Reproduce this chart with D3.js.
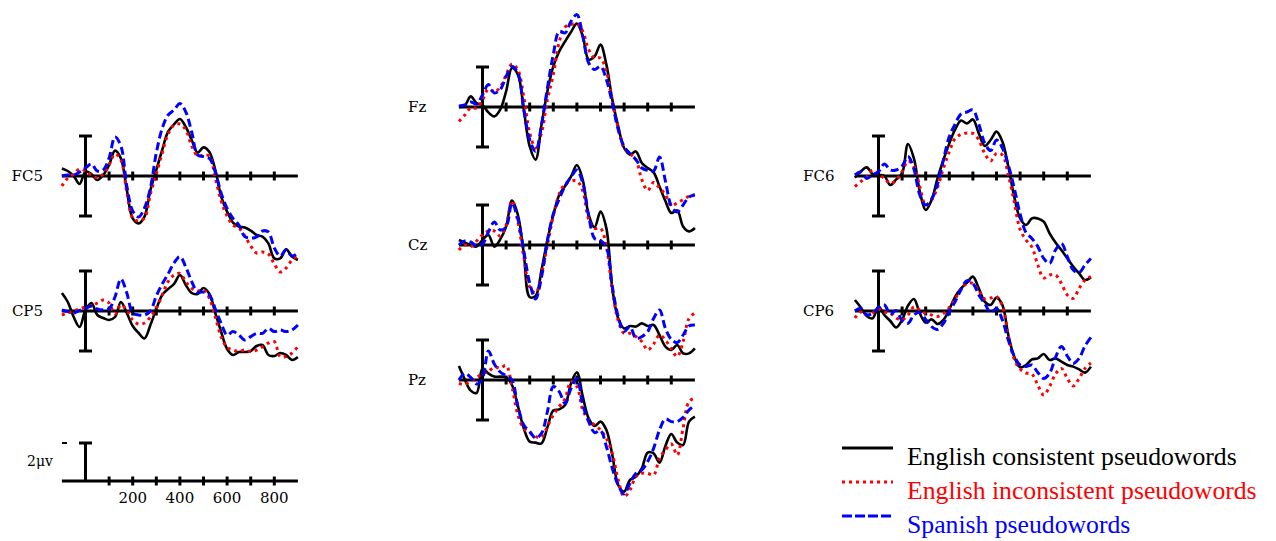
<!DOCTYPE html>
<html>
<head>
<meta charset="utf-8">
<script src="https://cdn.jsdelivr.net/npm/d3@7"></script>
<style>
  body { margin: 0; background: #fff; }
  svg { display: block; }
</style>
</head>
<body>
<svg id="chart" width="1276" height="541"></svg>
<script>
// sample times (ms) shared by every trace
const times = [-100, -75, -50, -25, 0, 25, 50, 75, 100, 125, 150, 175, 200, 225, 250, 275, 300,
  325, 350, 375, 400, 425, 450, 475, 500, 525, 550, 575, 600, 625, 650, 675, 700, 725, 750,
  775, 800, 825, 850, 875, 900];

// amplitudes in microvolts, one array per electrode and condition
const fc5Consistent = [0.38, 0.25, 0, -0.4, 0.22, 0.1, -0.2, 0.05, 0.55, 1.27, 0.88, -0.7, -2.12, -2.37, -2.03, -0.7, 0.3, 1.3, 2.22, 2.58, 2.85, 2.45, 1.8, 1.17, 1.43, 1.2, 0.3, -1.03, -1.78, -2.33, -2.53, -2.57, -2.73, -2.95, -3.03, -3.37, -4.12, -4.12, -3.67, -4.03, -4.2];
const fc5Inconsistent = [-0.5, -0.1, 0.1, 0.35, 0.25, 0.05, -0.1, 0.1, 0.55, 1.1, 0.8, -0.8, -2.1, -2.25, -2.1, -0.9, 0.1, 1.15, 2.1, 2.55, 2.6, 2.3, 1.5, 1.0, 1.05, 1.0, -0.1, -1.25, -2.0, -2.45, -2.6, -3.0, -3.5, -3.85, -3.8, -3.9, -4.4, -4.8, -4.6, -4.2, -4.0];
const fc5Spanish = [0, 0.05, 0.05, 0.2, 0.4, 0.6, 0.25, 0.3, 0.9, 1.95, 1.5, -0.5, -1.75, -2.05, -1.6, -0.6, 1.15, 2.38, 3.05, 3.3, 3.63, 3.2, 2.2, 1.05, 0.97, 0.88, 0.2, -0.87, -1.62, -2.12, -2.45, -3.03, -3.1, -3.05, -2.75, -2.8, -3.6, -4.0, -3.7, -4.0, -3.85];

const cp5Consistent = [0.9, 0.45, -0.3, -0.8, 0.05, 0.4, -0.2, -0.35, -0.45, -0.3, 0.45, -0.1, -0.75, -1.1, -1.37, -0.7, 0.1, 0.8, 1.1, 1.35, 1.8, 1.3, 0.9, 0.85, 1.15, 0.85, -0.1, -1.05, -1.9, -2.2, -2.05, -2.05, -2.0, -1.75, -1.7, -2.2, -2.25, -2.1, -2.2, -2.45, -2.3];
const cp5Inconsistent = [-0.2, -0.1, 0, 0.1, 0.2, 0.25, 0.4, 0.55, 0.4, -0.15, 0.3, 0.05, -0.45, -0.65, -0.6, -0.3, 0.13, 0.8, 1.47, 1.8, 1.88, 1.47, 1.13, 1.0, 1.05, 0.63, -0.3, -1.3, -1.82, -1.95, -2.03, -1.95, -2.03, -1.95, -1.78, -1.6, -1.53, -2.28, -2.28, -2.1, -1.78];
const cp5Spanish = [0.05, -0.03, -0.1, 0.03, 0.13, 0.25, 0.1, 0.05, 0.1, 0.7, 1.6, 0.9, -0.1, -0.2, -0.2, 0.0, 0.75, 1.35, 1.85, 2.4, 2.72, 2.2, 1.47, 0.95, 0.95, 0.8, 0.1, -0.62, -1.2, -1.03, -1.2, -1.45, -1.28, -1.12, -1.12, -0.87, -1.03, -0.95, -1.03, -0.95, -0.7];

const fzConsistent = [0, 0.07, 0.53, 0.2, 0.1, -0.27, -0.47, -0.13, 0.78, 1.95, 1.62, -0.13, -1.97, -2.63, -0.88, 0.78, 2.03, 2.78, 3.28, 3.75, 4.17, 3.53, 2.37, 2.53, 3.12, 2.12, 0.37, -0.97, -2.05, -2.38, -2.22, -2.8, -3.05, -3.27, -3.97, -4.7, -5.3, -5.17, -5.97, -6.22, -6.05];
const fzInconsistent = [-0.72, -0.4, -0.05, -0.05, 0.35, 0.9, 0.75, 1.0, 1.6, 2.15, 1.85, 0.5, -1.3, -2.05, -1.3, 0.37, 1.62, 3.25, 4.0, 4.12, 4.17, 3.78, 2.87, 2.45, 2.45, 1.78, 0.28, -1.05, -2.05, -2.33, -2.63, -3.63, -4.17, -3.77, -4.05, -4.38, -4.93, -4.8, -4.63, -4.47, -4.38];
const fzSpanish = [0.05, 0.1, 0.25, 0.15, 0.6, 1.12, 0.7, 0.87, 1.53, 2.03, 1.7, -0.13, -1.63, -2.22, -0.9, 0.95, 2.62, 3.78, 3.7, 4.28, 4.62, 3.53, 2.2, 1.87, 2.03, 1.37, 0.2, -1.13, -1.97, -2.33, -2.63, -3.05, -3.17, -3.2, -2.5, -3.7, -4.95, -5.25, -4.9, -4.5, -4.4];

const czConsistent = [0.25, 0.12, 0, -0.08, 0.25, 0.5, -0.08, 0.28, 0.92, 2.22, 1.5, -0.42, -2.6, -2.55, -1.25, 0.25, 1.5, 2.5, 2.95, 3.42, 4.0, 3.25, 1.5, 0.88, 1.67, 0.83, -2.17, -3.67, -4.17, -4.05, -4.08, -3.92, -4.05, -4.0, -4.5, -5.08, -5.25, -5.0, -5.42, -5.42, -5.17];
const czInconsistent = [-0.25, 0, -0.08, 0.2, 0.5, 0.7, 0.7, 0.45, 1.0, 2.2, 1.15, -0.6, -2.1, -2.4, -1.45, 0.0, 1.45, 2.55, 3.05, 3.2, 3.2, 2.7, 1.28, 0.83, 0.83, -0.08, -2.25, -3.78, -4.42, -4.42, -4.58, -4.83, -5.25, -4.95, -4.5, -4.75, -5.2, -5.58, -4.83, -3.67, -3.4];
const czSpanish = [0.0, 0.2, 0.15, -0.05, 0.05, 0.65, 1.15, 0.75, 0.9, 2.1, 1.3, -0.3, -1.9, -2.7, -1.6, 0.2, 1.55, 2.3, 2.95, 3.4, 3.75, 3.1, 1.45, 0.33, 0.22, -0.12, -2.08, -3.58, -4.33, -4.08, -4.67, -4.58, -4.33, -3.67, -3.25, -4.17, -4.72, -4.88, -4.5, -4.05, -4.0];

const pzConsistent = [0.7, 0.03, -0.53, -0.65, 0.58, 0.33, 0.17, 0.17, 0.13, -0.25, -1.3, -2.42, -3.08, -3.13, -3.17, -2.37, -1.53, -1.47, -1.25, -0.17, 0.38, -0.83, -1.92, -2.3, -2.08, -2.5, -3.75, -5.25, -5.58, -5.0, -4.83, -4.42, -3.63, -3.67, -4.13, -3.3, -2.7, -3.13, -3.25, -2.08, -1.83];
const pzInconsistent = [-0.17, -0.22, -0.05, 0.12, 0.33, 0.42, 0.65, 0.6, 0.72, -0.33, -1.75, -2.42, -2.63, -2.83, -2.87, -2.33, -1.75, -1.33, -0.93, -0.08, -0.33, -1.5, -2.0, -2.25, -2.5, -2.92, -3.67, -5.0, -5.83, -5.5, -4.83, -4.67, -4.67, -4.75, -3.9, -3.5, -3.2, -3.75, -2.4, -1.08, -0.9];
const pzSpanish = [0.0, 0.33, 0.13, -0.2, 0.1, 1.45, 0.8, 0.4, 0.22, 0.0, -1.33, -2.25, -2.58, -2.9, -2.67, -1.58, -0.33, -0.58, -1.17, -0.42, 0.08, -1.25, -2.08, -2.63, -2.53, -3.33, -4.42, -5.25, -5.7, -5.17, -4.67, -4.5, -4.08, -3.42, -2.5, -1.95, -2.08, -2.08, -1.87, -1.5, -1.25];

const fc6Consistent = [-0.08, 0.22, 0.43, 0.1, 0.05, 0, -0.45, -0.17, 0.13, 1.6, 0.88, -0.78, -1.7, -1.2, -0.12, 0.8, 1.63, 2.33, 2.77, 2.63, 2.83, 2.13, 1.5, 1.8, 2.22, 1.72, 0.47, -1.03, -2.12, -2.45, -2.12, -2.12, -2.28, -2.87, -3.33, -3.7, -4.12, -4.53, -4.87, -5.2, -5.07];
const fc6Inconsistent = [-0.53, -0.28, -0.05, 0.3, 0.1, -0.12, -0.37, -0.2, 0.22, 0.75, 0.48, -0.53, -1.45, -1.2, -0.57, 0.38, 1.22, 1.88, 2.08, 2.15, 2.13, 1.8, 1.13, 0.75, 1.13, 1.05, 0.05, -1.28, -2.67, -3.2, -3.55, -4.45, -5.1, -4.95, -4.95, -5.37, -5.95, -6.12, -5.62, -5.2, -5.03];
const fc6Spanish = [0.05, 0.2, -0.12, 0.05, 0.22, 0.6, 0.3, 0.3, 0.5, 0.97, 0.35, -0.95, -1.45, -1.15, -0.4, 0.8, 1.97, 2.6, 3.1, 3.2, 3.3, 2.6, 1.65, 1.27, 1.8, 1.4, 0.55, -0.6, -1.9, -2.83, -3.12, -3.53, -4.12, -4.37, -3.7, -3.37, -4.03, -4.7, -4.83, -4.45, -4.12];

const cp6Consistent = [0.55, 0.18, -0.25, -0.37, 0.22, -0.2, -0.5, -0.82, -0.45, 0.27, 0.6, -0.12, -0.58, -0.42, -0.65, -0.45, 0.08, 0.72, 1.13, 1.42, 1.72, 1.13, 0.47, 0.3, 0.67, 0.3, -1.2, -2.28, -2.82, -2.7, -2.42, -2.37, -2.15, -2.45, -2.37, -2.53, -2.7, -2.78, -2.92, -3.08, -2.78];
const cp6Inconsistent = [-0.35, -0.05, -0.2, -0.1, 0.1, -0.05, -0.1, -0.35, -0.45, -0.2, 0.2, 0.05, -0.12, -0.2, -0.27, -0.12, 0.15, 0.6, 1.1, 1.38, 1.38, 1.0, 0.6, 0.65, 0.72, 0.25, -1.25, -2.4, -2.9, -3.1, -3.15, -3.7, -4.2, -3.78, -3.15, -2.87, -3.37, -3.75, -3.37, -2.87, -2.6];
const cp6Spanish = [0, 0.13, -0.2, -0.12, 0.18, 0.3, -0.15, 0.02, -0.48, -0.62, -0.2, -0.07, -0.42, -0.78, -0.92, -0.62, -0.03, 0.47, 1.08, 1.52, 1.38, 0.8, 0.38, -0.08, 0.13, -0.45, -1.45, -2.25, -2.7, -2.78, -2.7, -3.08, -3.37, -3.12, -2.32, -1.78, -2.25, -2.62, -2.37, -1.75, -1.32];

const tickTimes = [100, 200, 300, 400, 500, 600, 700, 800];
const tickLabels = [200, 400, 600, 800];
const scaleLabel = "2μv";
const legendNames = ["English consistent pseudowords", "English inconsistent pseudowords", "Spanish pseudowords"];

// where each electrode sits on the page (zero time / zero volt)
const panels = [
  { name: "FC5", x0: 85.5, y0: 176, lx: 43, anchor: "end", series: [fc5Consistent, fc5Inconsistent, fc5Spanish] },
  { name: "CP5", x0: 85.5, y0: 311, lx: 43, anchor: "end", series: [cp5Consistent, cp5Inconsistent, cp5Spanish] },
  { name: "Fz", x0: 482.5, y0: 107, lx: 408, anchor: "start", series: [fzConsistent, fzInconsistent, fzSpanish] },
  { name: "Cz", x0: 482.5, y0: 245, lx: 408, anchor: "start", series: [czConsistent, czInconsistent, czSpanish] },
  { name: "Pz", x0: 482.5, y0: 380, lx: 408, anchor: "start", series: [pzConsistent, pzInconsistent, pzSpanish] },
  { name: "FC6", x0: 878.5, y0: 176, lx: 803, anchor: "start", series: [fc6Consistent, fc6Inconsistent, fc6Spanish] },
  { name: "CP6", x0: 878.5, y0: 311, lx: 803, anchor: "start", series: [cp6Consistent, cp6Inconsistent, cp6Spanish] }
];

const styles = [
  { color: "#000000", width: 2.6, dash: null },
  { color: "#ff0000", width: 3, dash: "3,4" },
  { color: "#0000ff", width: 3, dash: "8,4" }
];

const svg = d3.select("#chart");
svg.append("rect").attr("width", 1276).attr("height", 541).attr("fill", "#fff");

const labelFont = "'DejaVu Serif', serif";

function makeScales(p) {
  const x = d3.scaleLinear().domain([-100, 900]).range([p.x0 - 23.6, p.x0 + 212.4]);
  const y = d3.scaleLinear().domain([-2, 2]).range([p.y0 + 40, p.y0 - 40]);
  return { x, y };
}

function drawFrame(g, x, y, barFrom, barTo) {
  // time axis
  g.append("line")
    .attr("x1", x(-100)).attr("x2", x(900))
    .attr("y1", y(0)).attr("y2", y(0))
    .attr("stroke", "#000").attr("stroke-width", 3);
  g.selectAll("line.tick")
    .data(tickTimes)
    .enter()
    .append("line")
    .attr("class", "tick")
    .attr("x1", d => x(d)).attr("x2", d => x(d))
    .attr("y1", y(0) - 4.5).attr("y2", y(0) + 4.5)
    .attr("stroke", "#000").attr("stroke-width", 3);
  // amplitude bar with caps
  g.append("line")
    .attr("x1", x(0)).attr("x2", x(0))
    .attr("y1", y(barFrom)).attr("y2", y(barTo))
    .attr("stroke", "#000").attr("stroke-width", 3);
  [barFrom, barTo].filter(v => v !== 0).forEach(v => {
    g.append("line")
      .attr("x1", x(0) - 6.5).attr("x2", x(0) + 6.5)
      .attr("y1", y(v)).attr("y2", y(v))
      .attr("stroke", "#000").attr("stroke-width", 3);
  });
}

panels.forEach(p => {
  const { x, y } = makeScales(p);
  const g = svg.append("g");
  drawFrame(g, x, y, -2, 2);

  const line = d3.line()
    .x((d, i) => x(times[i]))
    .y(d => y(d))
    .curve(d3.curveCatmullRom.alpha(0.5));

  p.series.forEach((values, k) => {
    const s = styles[k];
    g.append("path")
      .datum(values)
      .attr("d", line)
      .attr("fill", "none")
      .attr("stroke", s.color)
      .attr("stroke-width", s.width)
      .attr("stroke-dasharray", s.dash)
      .attr("stroke-linejoin", "round");
  });

  g.append("text")
    .attr("x", p.lx).attr("y", p.y0 + 5)
    .attr("text-anchor", p.anchor)
    .attr("font-family", labelFont)
    .attr("font-size", 15)
    .attr("fill", "#000")
    .text(p.name);
});

// calibration panel: 2 microvolt bar and time labels
{
  const p = { x0: 85.5, y0: 481 };
  const { x, y } = makeScales(p);
  const g = svg.append("g");
  drawFrame(g, x, y, 0, 1.9);

  g.append("line")
    .attr("x1", 62).attr("x2", 67)
    .attr("y1", y(1.9)).attr("y2", y(1.9))
    .attr("stroke", "#000").attr("stroke-width", 2);

  g.append("text")
    .attr("x", 27).attr("y", 466)
    .attr("font-family", labelFont)
    .attr("font-size", 14)
    .text(scaleLabel);

  g.selectAll("text.tl")
    .data(tickLabels)
    .enter()
    .append("text")
    .attr("class", "tl")
    .attr("x", d => x(d))
    .attr("y", 502.5)
    .attr("text-anchor", "middle")
    .attr("font-family", labelFont)
    .attr("font-size", 15)
    .text(d => d);
}

// legend
const legendY = d3.scalePoint().domain(legendNames).range([448, 516]);
const legend = svg.append("g");
legendNames.forEach((name, k) => {
  const s = styles[k];
  legend.append("line")
    .attr("x1", 842).attr("x2", 893)
    .attr("y1", legendY(name)).attr("y2", legendY(name))
    .attr("stroke", s.color)
    .attr("stroke-width", 3)
    .attr("stroke-dasharray", k === 2 ? "10,3" : s.dash);
  legend.append("text")
    .attr("x", 907).attr("y", legendY(name) + 17)
    .attr("font-family", "'Liberation Serif', 'Times New Roman', serif")
    .attr("font-size", 25.7)
    .attr("fill", s.color)
    .text(name);
});
</script>
</body>
</html>
